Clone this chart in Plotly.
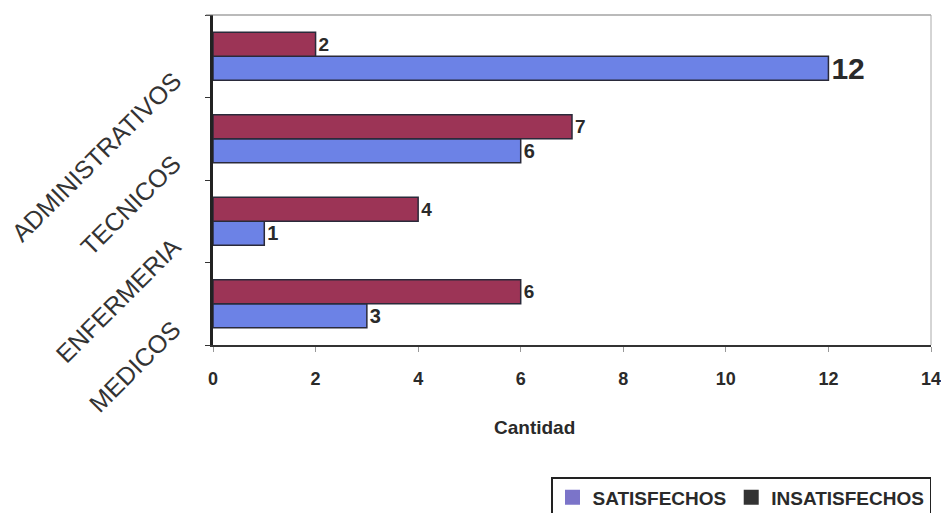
import plotly.graph_objects as go

# Staff groups (bottom to top) and survey counts
categorias = ["MEDICOS", "ENFERMERIA", "TECNICOS", "ADMINISTRATIVOS"]
satisfechos = [3, 1, 6, 12]
insatisfechos = [6, 4, 7, 2]
x_ticks = [0, 2, 4, 6, 8, 10, 12, 14]

azul = "#6c82e6"
granate = "#9c3456"
borde = "#2a2a3a"
sans = "Liberation Sans, Arial, sans-serif"

fig = go.Figure()

fig.add_trace(go.Bar(
    y=categorias, x=satisfechos, orientation="h", name="SATISFECHOS",
    marker=dict(color=azul, line=dict(color=borde, width=1.5)),
    text=[str(v) for v in satisfechos], textposition="outside",
    constraintext="none",
    textfont=dict(family=sans, size=[20, 20, 20, 30], color="#2a2a2a", weight="bold"),
    cliponaxis=False, showlegend=False,
))
fig.add_trace(go.Bar(
    y=categorias, x=insatisfechos, orientation="h", name="INSATISFECHOS",
    marker=dict(color=granate, line=dict(color=borde, width=1.5)),
    text=[str(v) for v in insatisfechos], textposition="outside",
    constraintext="none",
    textfont=dict(family=sans, size=19, color="#2a2a2a", weight="bold"),
    cliponaxis=False, showlegend=False,
))

# Legend swatches
for nombre, color in [("SATISFECHOS", "#7b74c9"), ("INSATISFECHOS", "#333333")]:
    fig.add_trace(go.Scatter(
        x=[None], y=[categorias[0]], mode="markers", name=nombre,
        marker=dict(symbol="square", size=15, color=color),
    ))

# Rotated category labels
for cat in categorias:
    fig.add_annotation(
        x=0, xref="paper", y=cat, yref="y",
        text=cat, textangle=-45, showarrow=False,
        xanchor="right", yanchor="top", xshift=-24, yshift=-8,
        font=dict(family=sans, size=25, color="#333"),
    )

# X axis title
fig.add_annotation(
    x=0.448, xref="paper", y=-0.25, yref="paper",
    text="<b>Cantidad</b>", showarrow=False,
    xanchor="center", yanchor="middle",
    font=dict(family=sans, size=19, color="#2a2a2a"),
)

fig.update_layout(
    width=941, height=513,
    margin=dict(l=213, r=10, t=15, b=168, autoexpand=False),
    paper_bgcolor="white", plot_bgcolor="white",
    barmode="group", bargap=0.42, bargroupgap=0,
    font=dict(family=sans, color="#222"),
    legend=dict(
        orientation="h", x=1, xanchor="right", y=-0.4, yanchor="top",
        bordercolor="#222", borderwidth=1.5, bgcolor="white",
        font=dict(family=sans, size=19, color="#2a2a2a", weight="bold"),
        traceorder="normal", itemwidth=30,
    ),
    xaxis=dict(
        range=[0, 14], tickvals=x_ticks, ticktext=[str(v) for v in x_ticks],
        showgrid=False, zeroline=False,
        showline=True, linecolor="#333", linewidth=2,
        ticks="outside", ticklen=5, tickcolor="#999",
        tickfont=dict(family=sans, size=18, color="#2a2a2a", weight="bold"),
        ticklabelstandoff=11, ticklabeloverflow="allow",
    ),
    yaxis=dict(
        categoryorder="array", categoryarray=categorias,
        range=[-0.5, 3.5], autorange=False,
        showgrid=False, zeroline=False, showticklabels=False,
        showline=True, linecolor="#222", linewidth=2.5,
        ticks="outside", ticklen=5, tickcolor="#333", tickson="boundaries",
    ),
    shapes=[
        dict(type="line", xref="paper", yref="paper", x0=-0.01, x1=1, y0=1, y1=1,
             line=dict(color="#777", width=1.2)),
        dict(type="line", xref="paper", yref="paper", x0=1, x1=1, y0=0, y1=1,
             line=dict(color="#aaa", width=1)),
    ],
)

fig.write_html("out.html")
